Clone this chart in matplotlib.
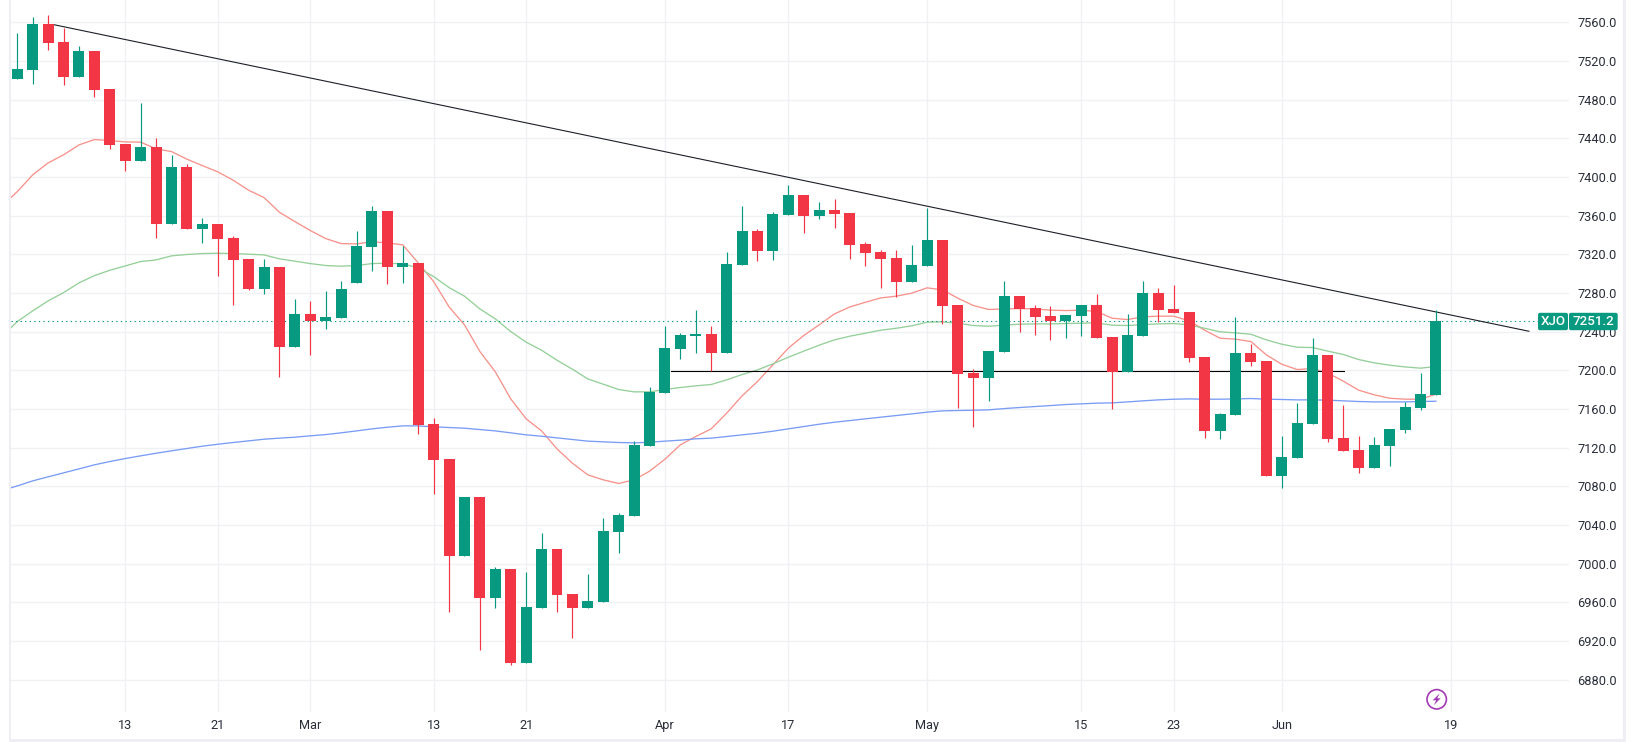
import matplotlib
matplotlib.use('Agg')
import matplotlib.pyplot as plt
from matplotlib.patches import Rectangle, FancyBboxPatch, Circle, Polygon
from matplotlib.transforms import IdentityTransform
import numpy as np

plt.rcParams['font.family'] = ['Roboto', 'DejaVu Sans']

W, H = 1633, 742

# daily candles
opens = [7501, 7510.3, 7557.9, 7539.3, 7503.1, 7530, 7490.7, 7433.8, 7416.2, 7430.7,
         7351, 7410, 7345.9, 7351, 7336.6, 7314.8, 7283.8, 7306.6, 7223.8, 7257.9,
         7250.7, 7253.8, 7290, 7327.2, 7364.5, 7306.6, 7310.7, 7144.1, 7107.9, 7007.6,
         7068.6, 6964.1, 6994.1, 6896.9, 6953.8, 7014.8, 6968.3, 6953.8, 6960, 7032.4,
         7049, 7121.4, 7176.2, 7221.7, 7235.2, 7237.2, 7217.6, 7308.6, 7343.8, 7323.1,
         7360.3, 7381, 7359.3, 7365.5, 7362.4, 7330.3, 7322.1, 7315.9, 7291, 7307.6,
         7334.5, 7267.2, 7196.9, 7191.7, 7218.6, 7276.6, 7264.1, 7255.9, 7250.7, 7255.9,
         7267.2, 7234.1, 7197.9, 7235.2, 7279.7, 7263.1, 7260, 7213.4, 7136.9, 7153.4,
         7217.6, 7209.3, 7090.3, 7109, 7144.1, 7215.5, 7129.7, 7117.2, 7098.6, 7121.4,
         7137.9, 7160.7, 7174.1]
highs = [7548.6, 7565.2, 7567.2, 7553.8, 7535.2, 7530, 7490.7, 7433.8, 7476.2, 7440,
         7422.4, 7413.1, 7357.2, 7351, 7338.6, 7314.8, 7314.8, 7306.6, 7273.4, 7271.4,
         7281.7, 7292.1, 7343.8, 7369.7, 7364.5, 7328.3, 7310.7, 7151, 7107.9, 7068.6,
         7068.6, 6996.2, 6994.1, 6991, 7031.4, 7014.8, 6968.3, 6989, 7046.9, 7052,
         7126.6, 7182.4, 7245.5, 7238.3, 7262.1, 7245.5, 7322.1, 7369.7, 7345.9, 7363.4,
         7391.4, 7381, 7373.8, 7376.9, 7362.4, 7332.4, 7324, 7324.1, 7329.3, 7367.6,
         7334.5, 7267.2, 7201, 7219.7, 7292.1, 7276.6, 7267.2, 7266.2, 7256.9, 7267.2,
         7278.6, 7234.1, 7257.9, 7292.1, 7284.8, 7287.9, 7260, 7213.4, 7155.5, 7254.8,
         7226.9, 7209.3, 7131.7, 7165.9, 7233.1, 7215.5, 7163.8, 7131.7, 7130.7, 7139,
         7166.9, 7196.9, 7262.1]
lows = [7501, 7495.9, 7531, 7494.8, 7503.1, 7482.4, 7428.6, 7405.9, 7416.2, 7336.6,
        7351, 7345.9, 7331.4, 7297.2, 7267.2, 7282.8, 7278.6, 7193.1, 7223.8, 7215.5,
        7242.4, 7253.8, 7290, 7302.4, 7289, 7290, 7133.8, 7071.7, 6949.7, 7007.6,
        6910.3, 6953.8, 6894.8, 6896.9, 6953.8, 6949.7, 6922.8, 6953.8, 6960, 7010.7,
        7049, 7121.4, 7176.2, 7211.4, 7217.6, 7199, 7217.6, 7308.6, 7312.8, 7313.8,
        7360.3, 7341.7, 7356.2, 7346.9, 7314.8, 7307.6, 7284.8, 7275.5, 7291, 7307.6,
        7247.6, 7160.7, 7141, 7167.9, 7218.6, 7239.3, 7236.2, 7231, 7233.1, 7235.2,
        7233.1, 7159.7, 7197.9, 7235.2, 7249.7, 7259, 7208.3, 7129.7, 7128.6, 7153.4,
        7204.1, 7090.3, 7077.9, 7109, 7144.1, 7125.5, 7116.2, 7093.4, 7098.6, 7100.7,
        7134.8, 7158.6, 7174.1]
closes = [7511.4, 7557.9, 7538.3, 7503.1, 7530, 7489.7, 7432.8, 7416.2, 7430.7, 7351,
          7410, 7345.9, 7351, 7335.5, 7313.8, 7283.8, 7306.6, 7223.8, 7257.9, 7250.7,
          7254.8, 7283.8, 7328.3, 7364.5, 7306.6, 7310.7, 7143.1, 7106.9, 7007.6, 7068.6,
          6964.1, 6994.1, 6896.9, 6954.8, 7014.8, 6967.2, 6953.8, 6961, 7033.4, 7050,
          7122.4, 7177.2, 7222.8, 7236.2, 7237.2, 7217.6, 7309.7, 7343.8, 7323.1, 7361.4,
          7381, 7359.3, 7365.5, 7361.4, 7329.3, 7321, 7314.8, 7291, 7308.6, 7334.5,
          7266.2, 7195.9, 7191.7, 7219.7, 7276.6, 7263.1, 7254.8, 7250.7, 7256.9, 7267.2,
          7233.1, 7197.9, 7236.2, 7279.7, 7262.1, 7259, 7212.4, 7136.9, 7154.5, 7217.6,
          7208.3, 7090.3, 7110, 7145.2, 7215.5, 7128.6, 7116.2, 7098.6, 7122.4, 7139,
          7161.7, 7175.2, 7251.2]

# moving averages, first value belongs to the candle just off the left edge
ma_red = [7369.7, 7384.8, 7402.1, 7414.5, 7422.8, 7433.1, 7438.6, 7437.6, 7436.2, 7435.9,
          7429, 7426.2, 7418.3, 7411.7, 7405.2, 7396.6, 7386.2, 7378.6, 7363.4, 7353.8,
          7344.5, 7336.2, 7331, 7330.7, 7332.8, 7331.7, 7329.7, 7311, 7291.7, 7265.5,
          7246.9, 7219.3, 7198.3, 7170.3, 7149.7, 7137.2, 7118.6, 7103.8, 7091.7, 7086.6,
          7082.8, 7086.6, 7095.5, 7107.9, 7122.8, 7131.4, 7139.3, 7155.5, 7173.4, 7188.3,
          7205.5, 7222.8, 7235.9, 7246.9, 7258.3, 7265.5, 7270.3, 7274.8, 7276.6, 7279.7,
          7285.2, 7283.1, 7274.5, 7266.9, 7262.8, 7263.4, 7263.8, 7263.4, 7262.1, 7261.7,
          7262.1, 7260.7, 7253.8, 7252.4, 7255.2, 7255.9, 7255.9, 7251, 7241.4, 7233.1,
          7232.1, 7229.7, 7215.9, 7206.2, 7200.7, 7201.7, 7196.9, 7188.6, 7179.3, 7174.5,
          7171, 7170, 7170, 7175.2]
ma_green = [7234.8, 7250.3, 7261.4, 7271.7, 7280.3, 7290.3, 7297.9, 7303.4, 7307.9, 7312.4,
            7314.1, 7318.3, 7319.7, 7320.7, 7321, 7320.7, 7320, 7319.3, 7315.2, 7312.8,
            7310.3, 7308.3, 7307.6, 7308.3, 7310.3, 7310.7, 7310, 7305.9, 7296.9, 7285.5,
            7276.6, 7263.4, 7253.1, 7240, 7229, 7220.7, 7210.3, 7201, 7191, 7185.5,
            7180, 7177.6, 7177.6, 7180, 7182.1, 7183.8, 7185.2, 7190, 7195.5, 7200.3,
            7206.6, 7213.4, 7219.7, 7225.9, 7231.4, 7235.2, 7238.3, 7241.4, 7243.4, 7245.9,
            7249.7, 7250, 7248.6, 7246.2, 7245.5, 7246.6, 7247.6, 7247.9, 7247.9, 7248.3,
            7248.6, 7249, 7246.6, 7246.2, 7247.2, 7247.9, 7248.3, 7246.9, 7243.4, 7239.7,
            7238.6, 7237.2, 7231.4, 7226.9, 7223.8, 7223.4, 7219.7, 7216.2, 7211, 7207.6,
            7205.2, 7203.4, 7202.1, 7203.8]
ma_blue = [7075.5, 7080.3, 7085.5, 7089.7, 7093.8, 7097.9, 7102.1, 7105.5, 7108.6, 7111.4,
           7114.1, 7116.6, 7119, 7121.4, 7123.4, 7125.2, 7126.9, 7128.6, 7129.7, 7130.7,
           7132.1, 7133.4, 7135.2, 7137.2, 7139.3, 7141, 7142.4, 7142.4, 7141.4, 7140.7,
           7140, 7138.6, 7137.2, 7135.2, 7133.1, 7131.7, 7130, 7128.3, 7126.6, 7125.9,
           7125.2, 7124.8, 7125.5, 7126.6, 7127.6, 7129, 7129.7, 7131.4, 7133.1, 7134.8,
           7136.9, 7139.3, 7141.7, 7144.1, 7146.2, 7147.9, 7149.7, 7151.4, 7153.1, 7154.8,
           7156.6, 7157.9, 7158.3, 7158.6, 7159, 7160.3, 7161.4, 7162.4, 7163.4, 7164.5,
           7165.2, 7165.9, 7166.2, 7167.2, 7168.3, 7169.3, 7170, 7170.3, 7170, 7170,
           7170.3, 7170.7, 7170, 7169.7, 7169.3, 7169.3, 7169, 7168.3, 7167.6, 7167.2,
           7167.2, 7167.2, 7167.6, 7167.9]

# drawn lines: (candle position, price)
trend_x = [2.33, 98.03]
trend_y = [7557.6, 7240.3]
level_x = [42.4, 86.04]
level_y = [7199, 7199]

last_price = 7251.2
symbol = 'XJO'

y_ticks = list(range(6880, 7561, 40))
x_tick_pos = [7, 13, 19, 27, 33, 42, 50, 59, 69, 75, 82, 93]
x_tick_labels = ['13', '21', 'Mar', '13', '21', 'Apr', '17', 'May', '15', '23', 'Jun', '19']

UP = '#089981'
DOWN = '#f23645'
TEXT = '#2a2e39'
GRID = '#f0f1f5'
FRAME = '#eeeef4'

fig = plt.figure(figsize=(W / 100, H / 100), dpi=100, facecolor='white')
ax = fig.add_axes([11 / W, 1 - 711.7 / H, (1569 - 11) / W, 711.7 / H])
ax.set_xlim(-0.409, 100.63)
ax.set_ylim(6846.7, 7583)
for s in ax.spines.values():
    s.set_visible(False)

ax.set_axisbelow(True)
ax.grid(True, color=GRID, linewidth=1.0)
ax.set_yticks(y_ticks)
ax.set_yticklabels([f'{v:.1f}' for v in y_ticks])
ax.yaxis.tick_right()
ax.set_xticks(x_tick_pos)
ax.set_xticklabels(x_tick_labels)
ax.tick_params(axis='y', length=0, pad=5.8, labelsize=9.2, labelcolor=TEXT)
ax.tick_params(axis='x', length=0, pad=5.5, labelsize=9.2, labelcolor=TEXT)

# moving averages sit under the candles
ma_x = np.arange(-1, 93)
ax.plot(ma_x, ma_red, color='#f7928c', linewidth=0.95, zorder=2)
ax.plot(ma_x, ma_green, color='#95cf99', linewidth=0.95, zorder=2)
ax.plot(ma_x, ma_blue, color='#7a9cf5', linewidth=0.95, zorder=2)

# last price line, trend line and support level, all behind the candles
ax.plot([-0.409, 98.7], [last_price, last_price], color=UP, linewidth=0.8,
        linestyle=(0, (1.2, 2.9)), snap=True, zorder=2.5)
ax.plot(trend_x, trend_y, color='#1c1f28', linewidth=0.8, zorder=2.6)
ax.plot(level_x, level_y, color='#000000', linewidth=0.8, snap=True, zorder=2.6)

# candles
o = np.array(opens)
c = np.array(closes)
idx = np.arange(len(opens))
colors = [UP if b >= a else DOWN for a, b in zip(opens, closes)]
ax.vlines(idx, lows, highs, colors=colors, linewidth=0.85, zorder=3)
ax.bar(idx, np.abs(c - o), bottom=np.minimum(o, c), width=0.713, color=colors, linewidth=0, zorder=4)

# frame strips round the chart
for x0, y0, w, h in [(9, 0, 2.2, 739), (1622.5, 0, 3, 739), (9, 738.5, 1616.5, 3)]:
    fig.add_artist(Rectangle((x0, H - y0 - h), w, h, transform=IdentityTransform(),
                             facecolor=FRAME, edgecolor='none'))

# symbol and price labels on the scale
for x0, x1, label in [(1538, 1568, symbol), (1569, 1617.7, f'{last_price:.1f}')]:
    fig.add_artist(FancyBboxPatch((x0 + 1, H - 329.2), x1 - x0 - 2, 15.4, transform=IdentityTransform(),
                                  boxstyle='round,pad=1,rounding_size=2', facecolor=UP, edgecolor='none'))
    fig.text((x0 + x1) / 2 / W, 1 - 321.6 / H, label, color='white', fontsize=9.6, fontweight='medium',
             ha='center', va='center', zorder=5)

# flash icon under the last candle
cx, cy = 1436.7, H - 699.3
fig.add_artist(Circle((cx, cy), 9.7, transform=IdentityTransform(), facecolor='white',
                      edgecolor='#a33ab5', linewidth=1.2))
bolt = np.array([(3, 6), (-4, -1), (-0.5, -1), (-3, -6), (4, 1), (0.5, 1)]) + [cx, cy]
fig.add_artist(Polygon(bolt, transform=IdentityTransform(), facecolor='#a33ab5', edgecolor='none'))

fig.savefig('out.png', dpi=100)
